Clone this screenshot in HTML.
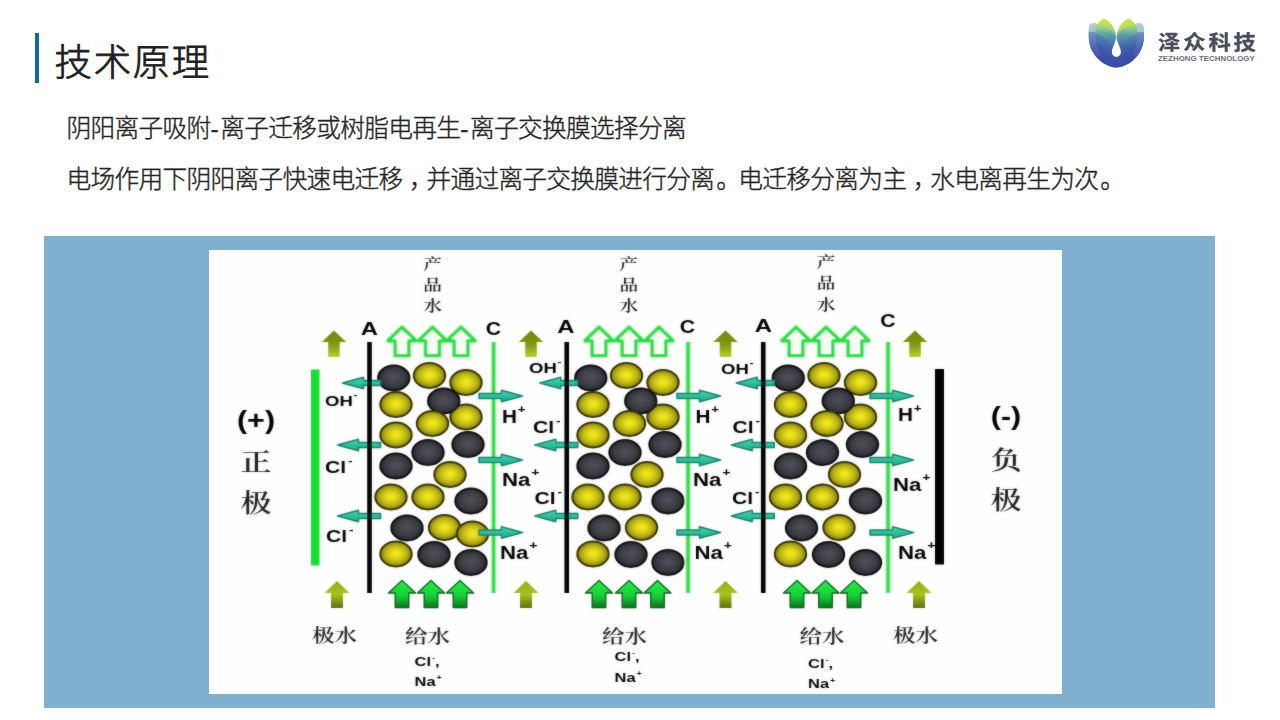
<!DOCTYPE html>
<html lang="zh-CN">
<head>
<meta charset="utf-8">
<title>技术原理</title>
<style>
html,body{margin:0;padding:0;}
body{width:1280px;height:720px;overflow:hidden;background:#fff;position:relative;
  font-family:"Liberation Sans","Noto Sans CJK SC",sans-serif;color:#262626;}
.bar{position:absolute;left:35px;top:33px;width:4px;height:50px;background:#14689d;}
h1{position:absolute;left:54.6px;top:34px;margin:0;font-size:37.4px;line-height:58px;font-weight:300;color:#202020;-webkit-text-stroke:0.8px #202020;white-space:nowrap;letter-spacing:1.7px;}
p{position:absolute;left:66.6px;margin:0;font-size:24.7px;line-height:36px;font-weight:300;color:#262626;-webkit-text-stroke:0.4px #262626;white-space:nowrap;letter-spacing:-0.7px;}
p i{font-style:normal;letter-spacing:1.6px;}
p b{font-weight:inherit;position:relative;left:6.5px;}
p b.d{left:2px;}
p.l1{top:110.6px;}
p.l2{top:161.6px;}
.panel{position:absolute;left:44px;top:236px;width:1171px;height:472px;background:#7fb0cf;}
.pic{position:absolute;left:209px;top:250px;width:853px;height:444px;background:#fefefe;}
svg.dg{position:absolute;left:0;top:0;width:1280px;height:720px;overflow:hidden;}
.logo{position:absolute;left:1080px;top:8px;width:80px;height:70px;}
.brand{position:absolute;left:1158px;top:27px;width:110px;white-space:nowrap;color:#4a4e5b;}
.brand .cn{position:relative;top:1px;font-size:20px;line-height:30px;font-weight:700;letter-spacing:2.6px;transform:scaleX(1.115);transform-origin:0 0;-webkit-text-stroke:0.3px #4a4e5b;}
.brand .en{font-size:7.8px;line-height:9px;font-weight:700;letter-spacing:0.08px;color:#6a6d78;margin-top:-3px;}
</style>
</head>
<body>
<div class="bar"></div>
<h1>技术原理</h1>
<p class="l1">阴阳离子吸附<i>-</i>离子迁移或树脂电再生<i>-</i>离子交换膜选择分离</p>
<p class="l2">电场作用下阴阳离子快速电迁移<b>，</b>并通过离子交换膜进行分离<b class="d">。</b>电迁移分离为主<b>，</b>水电离再生为次<b class="d">。</b></p>
<svg class="logo" viewBox="1080 8 80 70" width="80" height="70">
<defs>
<linearGradient id="lg1" gradientUnits="userSpaceOnUse" x1="0" y1="19" x2="0" y2="68">
<stop offset="0" stop-color="#cfe25a"/><stop offset="0.1" stop-color="#bcdb60"/><stop offset="0.2" stop-color="#8ecb92"/><stop offset="0.3" stop-color="#62a5a3"/><stop offset="0.45" stop-color="#4d80ae"/><stop offset="0.6" stop-color="#4264ae"/><stop offset="0.8" stop-color="#3c52aa"/><stop offset="1" stop-color="#3b47a3"/>
</linearGradient>
<linearGradient id="lg2" gradientUnits="userSpaceOnUse" x1="0" y1="23" x2="0" y2="60">
<stop offset="0" stop-color="#b7cdec"/><stop offset="0.23" stop-color="#aac6e6"/><stop offset="0.24" stop-color="#7f90ca"/><stop offset="0.6" stop-color="#5a6ebc"/><stop offset="1" stop-color="#3e50aa"/>
</linearGradient>
<clipPath id="lclip"><path d="M1116.3 67.8 C1107 66.8 1098.8 61 1094.2 54.3 C1090.6 49 1088.7 43 1088.7 36 L1088.8 29 C1089 25 1091 23 1093.5 23 C1095 23 1096.5 23.5 1097.5 24.2 C1098.5 22.5 1101 20 1104 18.8 C1108 20 1112.5 24.5 1114.6 30 C1115.6 33 1116 35.5 1116.3 38 C1116.7 35.5 1117.2 33 1118.2 30 C1120.3 24.5 1124.5 20 1128.6 18.8 C1131.6 20 1134 22.5 1135 24.2 C1136 23.5 1137.5 23 1139 23 C1141.7 23 1143.7 25 1143.9 29 L1144 36 C1144 43 1142.1 49 1138.5 54.3 C1133.9 61 1125.7 66.8 1116.3 67.8 Z"/></clipPath>
<filter id="lsoft" x="1080" y="8" width="80" height="70" filterUnits="userSpaceOnUse"><feGaussianBlur stdDeviation="0.45"/></filter>
</defs>
<g filter="url(#lsoft)">
<path d="M1116.3 67.8 C1107 66.8 1098.8 61 1094.2 54.3 C1090.6 49 1088.7 43 1088.7 36 L1088.8 29 C1089 25 1091 23 1093.5 23 C1095 23 1096.5 23.5 1097.5 24.2 C1098.5 22.5 1101 20 1104 18.8 C1108 20 1112.5 24.5 1114.6 30 C1115.6 33 1116 35.5 1116.3 38 C1116.7 35.5 1117.2 33 1118.2 30 C1120.3 24.5 1124.5 20 1128.6 18.8 C1131.6 20 1134 22.5 1135 24.2 C1136 23.5 1137.5 23 1139 23 C1141.7 23 1143.7 25 1143.9 29 L1144 36 C1144 43 1142.1 49 1138.5 54.3 C1133.9 61 1125.7 66.8 1116.3 67.8 Z" fill="url(#lg1)"/>
<g clip-path="url(#lclip)">
<path d="M1084 31.8 C1097 31.5 1108.5 38.5 1113 50.5 L1113 70 L1084 70 Z" fill="#3f58ae" opacity="0.3"/>
<path d="M1149 31.8 C1136 31.5 1124.5 38.5 1120 50.5 L1120 70 L1149 70 Z" fill="#3f58ae" opacity="0.3"/>
<path d="M1084 40.5 C1095.5 40.5 1105.5 47 1110.5 58 L1110.5 70 L1084 70 Z" fill="#3b49a7" opacity="0.35"/>
<path d="M1149 40.5 C1137.5 40.5 1127.5 47 1122.5 58 L1122.5 70 L1149 70 Z" fill="#3b49a7" opacity="0.35"/>
</g>
<path d="M1088.7 36 L1088.8 29 C1089 25 1091 23 1093.5 23 C1095 23 1096 23.3 1096.8 23.8 C1095.6 27 1095.2 31 1095.4 36 C1095.8 44 1098 50 1101 55 L1097 56.5 C1092 50 1088.7 43 1088.7 36 Z" fill="url(#lg2)" opacity="0.75"/>
<path d="M1144 36 L1143.9 29 C1143.7 25 1141.7 23 1139.2 23 C1137.7 23 1136.7 23.3 1135.9 23.8 C1137.1 27 1137.5 31 1137.3 36 C1136.9 44 1134.7 50 1131.7 55 L1135.7 56.5 C1140.7 50 1144 43 1144 36 Z" fill="url(#lg2)" opacity="0.75"/>
<path d="M1104 18.8 C1108 20 1112.5 24.5 1114.6 30 C1115.3 32 1115.7 34 1115.9 35.5 C1112 30 1106 25.5 1099.3 24.5 C1100.5 22 1102 20 1104 18.8 Z" fill="#d3e45a" opacity="0.38"/>
<path d="M1128.6 18.8 C1124.6 20 1120.1 24.5 1118 30 C1117.3 32 1116.9 34 1116.7 35.5 C1120.6 30 1126.6 25.5 1133.3 24.5 C1132.1 22 1130.6 20 1128.6 18.8 Z" fill="#d3e640" opacity="0.48"/>
<path d="M1116.4 35.5 C1116.8 43 1120.9 47 1120.9 52.3 A4.5 4.6 0 0 1 1111.9 52.3 C1111.9 47 1116 43 1116.4 35.5 Z" fill="#fdfffe"/>
</g>
</svg>

<div class="brand"><div class="cn">泽众科技</div><div class="en">ZEZHONG TECHNOLOGY</div></div>
<div class="panel"></div>
<div class="pic"></div>
<svg class="dg" viewBox="0 0 1280 720" width="1280" height="720">
<defs>
<radialGradient id="gy" cx="0.5" cy="0.5" r="0.55" fx="0.5" fy="0.48">
<stop offset="0" stop-color="#f6ec22"/><stop offset="0.3" stop-color="#e0d818"/><stop offset="0.65" stop-color="#b4ae18"/><stop offset="1" stop-color="#68640e"/>
</radialGradient>
<radialGradient id="gd" cx="0.5" cy="0.5" r="0.55" fx="0.5" fy="0.45">
<stop offset="0" stop-color="#505058"/><stop offset="0.6" stop-color="#3c3c44"/><stop offset="1" stop-color="#202024"/>
</radialGradient>
<linearGradient id="gt" x1="0" y1="0" x2="0" y2="1">
<stop offset="0" stop-color="#45d4b0"/><stop offset="0.5" stop-color="#30c09c"/><stop offset="1" stop-color="#22a586"/>
</linearGradient>
<linearGradient id="gg" x1="0" y1="0" x2="0" y2="1">
<stop offset="0" stop-color="#22f048"/><stop offset="0.55" stop-color="#18d038"/><stop offset="1" stop-color="#0a7a1e"/>
</linearGradient>
<linearGradient id="go1" x1="0" y1="0" x2="0" y2="1">
<stop offset="0" stop-color="#6f8410"/><stop offset="0.5" stop-color="#7f9612"/><stop offset="1" stop-color="#b5cf2a"/>
</linearGradient>
<linearGradient id="go2" x1="0" y1="0" x2="0" y2="1">
<stop offset="0" stop-color="#8fae18"/><stop offset="0.5" stop-color="#a3c41c"/><stop offset="1" stop-color="#5f6c10"/>
</linearGradient>
<filter id="soft" x="0" y="0" width="100%" height="100%" filterUnits="userSpaceOnUse"><feGaussianBlur stdDeviation="0.8" result="b"/><feComposite in="SourceGraphic" in2="b" operator="arithmetic" k1="0" k2="0.62" k3="0.38" k4="0"/></filter>
</defs>
<g filter="url(#soft)">
<rect x="311" y="369.5" width="8.5" height="196" fill="#14e02e"/>
<rect x="935" y="369" width="9" height="195.5" fill="#000"/>
<rect x="490.5" y="342" width="6" height="251" fill="#c4f7ca"/>
<rect x="491.9" y="342" width="3.4" height="251" fill="#2bdc48"/>
<rect x="685" y="342" width="6" height="251" fill="#c4f7ca"/>
<rect x="686.4" y="342" width="3.4" height="251" fill="#2bdc48"/>
<rect x="885" y="342" width="6" height="251" fill="#c4f7ca"/>
<rect x="886.4" y="342" width="3.4" height="251" fill="#2bdc48"/>
<ellipse cx="393.75" cy="378" rx="15.7" ry="12.4" fill="url(#gd)" stroke="#0c0c0e" stroke-width="2"/>
<ellipse cx="429.5" cy="375.5" rx="15.7" ry="12.4" fill="url(#gy)" stroke="#332e00" stroke-width="2"/>
<ellipse cx="466" cy="382.5" rx="15.7" ry="12.4" fill="url(#gy)" stroke="#332e00" stroke-width="2"/>
<ellipse cx="396" cy="404.5" rx="15.7" ry="12.4" fill="url(#gy)" stroke="#332e00" stroke-width="2"/>
<ellipse cx="466" cy="417" rx="15.7" ry="12.4" fill="url(#gy)" stroke="#332e00" stroke-width="2"/>
<ellipse cx="443.75" cy="401" rx="15.7" ry="12.4" fill="url(#gd)" stroke="#0c0c0e" stroke-width="2"/>
<ellipse cx="432.5" cy="423.5" rx="15.7" ry="12.4" fill="url(#gy)" stroke="#332e00" stroke-width="2"/>
<ellipse cx="396" cy="435" rx="15.7" ry="12.4" fill="url(#gy)" stroke="#332e00" stroke-width="2"/>
<ellipse cx="468" cy="444.5" rx="15.7" ry="12.4" fill="url(#gd)" stroke="#0c0c0e" stroke-width="2"/>
<ellipse cx="428" cy="452.5" rx="15.7" ry="12.4" fill="url(#gd)" stroke="#0c0c0e" stroke-width="2"/>
<ellipse cx="396" cy="466" rx="15.7" ry="12.4" fill="url(#gd)" stroke="#0c0c0e" stroke-width="2"/>
<ellipse cx="450" cy="474.5" rx="15.7" ry="12.4" fill="url(#gy)" stroke="#332e00" stroke-width="2"/>
<ellipse cx="391" cy="497" rx="15.7" ry="12.4" fill="url(#gy)" stroke="#332e00" stroke-width="2"/>
<ellipse cx="428" cy="497" rx="15.7" ry="12.4" fill="url(#gy)" stroke="#332e00" stroke-width="2"/>
<ellipse cx="471" cy="501" rx="15.7" ry="12.4" fill="url(#gd)" stroke="#0c0c0e" stroke-width="2"/>
<ellipse cx="407" cy="528" rx="15.7" ry="12.4" fill="url(#gd)" stroke="#0c0c0e" stroke-width="2"/>
<ellipse cx="444.5" cy="527.5" rx="15.7" ry="12.4" fill="url(#gy)" stroke="#332e00" stroke-width="2"/>
<ellipse cx="472.5" cy="534" rx="15.7" ry="12.4" fill="url(#gy)" stroke="#332e00" stroke-width="2"/>
<ellipse cx="396" cy="554" rx="15.7" ry="12.4" fill="url(#gy)" stroke="#332e00" stroke-width="2"/>
<ellipse cx="434" cy="554.5" rx="15.7" ry="12.4" fill="url(#gd)" stroke="#0c0c0e" stroke-width="2"/>
<ellipse cx="471" cy="562.5" rx="15.7" ry="12.4" fill="url(#gd)" stroke="#0c0c0e" stroke-width="2"/>
<ellipse cx="590.75" cy="378" rx="15.7" ry="12.4" fill="url(#gd)" stroke="#0c0c0e" stroke-width="2"/>
<ellipse cx="626.5" cy="375.5" rx="15.7" ry="12.4" fill="url(#gy)" stroke="#332e00" stroke-width="2"/>
<ellipse cx="663" cy="382.5" rx="15.7" ry="12.4" fill="url(#gy)" stroke="#332e00" stroke-width="2"/>
<ellipse cx="593" cy="404.5" rx="15.7" ry="12.4" fill="url(#gy)" stroke="#332e00" stroke-width="2"/>
<ellipse cx="663" cy="417" rx="15.7" ry="12.4" fill="url(#gy)" stroke="#332e00" stroke-width="2"/>
<ellipse cx="640.75" cy="401" rx="15.7" ry="12.4" fill="url(#gd)" stroke="#0c0c0e" stroke-width="2"/>
<ellipse cx="629.5" cy="423.5" rx="15.7" ry="12.4" fill="url(#gy)" stroke="#332e00" stroke-width="2"/>
<ellipse cx="593" cy="435" rx="15.7" ry="12.4" fill="url(#gy)" stroke="#332e00" stroke-width="2"/>
<ellipse cx="665" cy="444.5" rx="15.7" ry="12.4" fill="url(#gd)" stroke="#0c0c0e" stroke-width="2"/>
<ellipse cx="625" cy="452.5" rx="15.7" ry="12.4" fill="url(#gd)" stroke="#0c0c0e" stroke-width="2"/>
<ellipse cx="593" cy="466" rx="15.7" ry="12.4" fill="url(#gd)" stroke="#0c0c0e" stroke-width="2"/>
<ellipse cx="647" cy="474.5" rx="15.7" ry="12.4" fill="url(#gy)" stroke="#332e00" stroke-width="2"/>
<ellipse cx="588" cy="497" rx="15.7" ry="12.4" fill="url(#gy)" stroke="#332e00" stroke-width="2"/>
<ellipse cx="625" cy="497" rx="15.7" ry="12.4" fill="url(#gy)" stroke="#332e00" stroke-width="2"/>
<ellipse cx="668" cy="501" rx="15.7" ry="12.4" fill="url(#gd)" stroke="#0c0c0e" stroke-width="2"/>
<ellipse cx="604" cy="528" rx="15.7" ry="12.4" fill="url(#gd)" stroke="#0c0c0e" stroke-width="2"/>
<ellipse cx="641.5" cy="527.5" rx="15.7" ry="12.4" fill="url(#gy)" stroke="#332e00" stroke-width="2"/>
<ellipse cx="593" cy="554" rx="15.7" ry="12.4" fill="url(#gy)" stroke="#332e00" stroke-width="2"/>
<ellipse cx="631" cy="554.5" rx="15.7" ry="12.4" fill="url(#gd)" stroke="#0c0c0e" stroke-width="2"/>
<ellipse cx="668" cy="562.5" rx="15.7" ry="12.4" fill="url(#gd)" stroke="#0c0c0e" stroke-width="2"/>
<ellipse cx="788.25" cy="378" rx="15.7" ry="12.4" fill="url(#gd)" stroke="#0c0c0e" stroke-width="2"/>
<ellipse cx="824.0" cy="375.5" rx="15.7" ry="12.4" fill="url(#gy)" stroke="#332e00" stroke-width="2"/>
<ellipse cx="860.5" cy="382.5" rx="15.7" ry="12.4" fill="url(#gy)" stroke="#332e00" stroke-width="2"/>
<ellipse cx="790.5" cy="404.5" rx="15.7" ry="12.4" fill="url(#gy)" stroke="#332e00" stroke-width="2"/>
<ellipse cx="860.5" cy="417" rx="15.7" ry="12.4" fill="url(#gy)" stroke="#332e00" stroke-width="2"/>
<ellipse cx="838.25" cy="401" rx="15.7" ry="12.4" fill="url(#gd)" stroke="#0c0c0e" stroke-width="2"/>
<ellipse cx="827.0" cy="423.5" rx="15.7" ry="12.4" fill="url(#gy)" stroke="#332e00" stroke-width="2"/>
<ellipse cx="790.5" cy="435" rx="15.7" ry="12.4" fill="url(#gy)" stroke="#332e00" stroke-width="2"/>
<ellipse cx="862.5" cy="444.5" rx="15.7" ry="12.4" fill="url(#gd)" stroke="#0c0c0e" stroke-width="2"/>
<ellipse cx="822.5" cy="452.5" rx="15.7" ry="12.4" fill="url(#gd)" stroke="#0c0c0e" stroke-width="2"/>
<ellipse cx="790.5" cy="466" rx="15.7" ry="12.4" fill="url(#gd)" stroke="#0c0c0e" stroke-width="2"/>
<ellipse cx="844.5" cy="474.5" rx="15.7" ry="12.4" fill="url(#gy)" stroke="#332e00" stroke-width="2"/>
<ellipse cx="785.5" cy="497" rx="15.7" ry="12.4" fill="url(#gy)" stroke="#332e00" stroke-width="2"/>
<ellipse cx="822.5" cy="497" rx="15.7" ry="12.4" fill="url(#gy)" stroke="#332e00" stroke-width="2"/>
<ellipse cx="865.5" cy="501" rx="15.7" ry="12.4" fill="url(#gd)" stroke="#0c0c0e" stroke-width="2"/>
<ellipse cx="801.5" cy="528" rx="15.7" ry="12.4" fill="url(#gd)" stroke="#0c0c0e" stroke-width="2"/>
<ellipse cx="839.0" cy="527.5" rx="15.7" ry="12.4" fill="url(#gy)" stroke="#332e00" stroke-width="2"/>
<ellipse cx="790.5" cy="554" rx="15.7" ry="12.4" fill="url(#gy)" stroke="#332e00" stroke-width="2"/>
<ellipse cx="828.5" cy="554.5" rx="15.7" ry="12.4" fill="url(#gd)" stroke="#0c0c0e" stroke-width="2"/>
<ellipse cx="865.5" cy="562.5" rx="15.7" ry="12.4" fill="url(#gd)" stroke="#0c0c0e" stroke-width="2"/>
<path d="M342.5 383 L363.5 377.25 L363.5 380.4 L380.5 380.4 L380.5 385.6 L363.5 385.6 L363.5 388.75 Z" fill="url(#gt)" stroke="#15806a" stroke-width="1.5" stroke-linejoin="round"/>
<path d="M337.5 445 L358.5 439.25 L358.5 442.4 L380.5 442.4 L380.5 447.6 L358.5 447.6 L358.5 450.75 Z" fill="url(#gt)" stroke="#15806a" stroke-width="1.5" stroke-linejoin="round"/>
<path d="M337.5 516 L358.5 510.25 L358.5 513.4 L380.5 513.4 L380.5 518.6 L358.5 518.6 L358.5 521.75 Z" fill="url(#gt)" stroke="#15806a" stroke-width="1.5" stroke-linejoin="round"/>
<path d="M522.5 396 L501.5 390.25 L501.5 393.4 L479 393.4 L479 398.6 L501.5 398.6 L501.5 401.75 Z" fill="url(#gt)" stroke="#15806a" stroke-width="1.5" stroke-linejoin="round"/>
<path d="M522.5 460 L501.5 454.25 L501.5 457.4 L479 457.4 L479 462.6 L501.5 462.6 L501.5 465.75 Z" fill="url(#gt)" stroke="#15806a" stroke-width="1.5" stroke-linejoin="round"/>
<path d="M522.5 532.5 L501.5 526.75 L501.5 529.9 L479 529.9 L479 535.1 L501.5 535.1 L501.5 538.25 Z" fill="url(#gt)" stroke="#15806a" stroke-width="1.5" stroke-linejoin="round"/>
<path d="M539.75 383 L560.75 377.25 L560.75 380.4 L577.75 380.4 L577.75 385.6 L560.75 385.6 L560.75 388.75 Z" fill="url(#gt)" stroke="#15806a" stroke-width="1.5" stroke-linejoin="round"/>
<path d="M534.75 445 L555.75 439.25 L555.75 442.4 L577.75 442.4 L577.75 447.6 L555.75 447.6 L555.75 450.75 Z" fill="url(#gt)" stroke="#15806a" stroke-width="1.5" stroke-linejoin="round"/>
<path d="M534.75 516 L555.75 510.25 L555.75 513.4 L577.75 513.4 L577.75 518.6 L555.75 518.6 L555.75 521.75 Z" fill="url(#gt)" stroke="#15806a" stroke-width="1.5" stroke-linejoin="round"/>
<path d="M720.5 396 L699.5 390.25 L699.5 393.4 L677 393.4 L677 398.6 L699.5 398.6 L699.5 401.75 Z" fill="url(#gt)" stroke="#15806a" stroke-width="1.5" stroke-linejoin="round"/>
<path d="M720.5 460 L699.5 454.25 L699.5 457.4 L677 457.4 L677 462.6 L699.5 462.6 L699.5 465.75 Z" fill="url(#gt)" stroke="#15806a" stroke-width="1.5" stroke-linejoin="round"/>
<path d="M720.5 532.5 L699.5 526.75 L699.5 529.9 L677 529.9 L677 535.1 L699.5 535.1 L699.5 538.25 Z" fill="url(#gt)" stroke="#15806a" stroke-width="1.5" stroke-linejoin="round"/>
<path d="M736.25 383 L757.25 377.25 L757.25 380.4 L774.25 380.4 L774.25 385.6 L757.25 385.6 L757.25 388.75 Z" fill="url(#gt)" stroke="#15806a" stroke-width="1.5" stroke-linejoin="round"/>
<path d="M731.25 445 L752.25 439.25 L752.25 442.4 L774.25 442.4 L774.25 447.6 L752.25 447.6 L752.25 450.75 Z" fill="url(#gt)" stroke="#15806a" stroke-width="1.5" stroke-linejoin="round"/>
<path d="M731.25 516 L752.25 510.25 L752.25 513.4 L774.25 513.4 L774.25 518.6 L752.25 518.6 L752.25 521.75 Z" fill="url(#gt)" stroke="#15806a" stroke-width="1.5" stroke-linejoin="round"/>
<path d="M913.5 396 L892.5 390.25 L892.5 393.4 L870 393.4 L870 398.6 L892.5 398.6 L892.5 401.75 Z" fill="url(#gt)" stroke="#15806a" stroke-width="1.5" stroke-linejoin="round"/>
<path d="M913.5 460 L892.5 454.25 L892.5 457.4 L870 457.4 L870 462.6 L892.5 462.6 L892.5 465.75 Z" fill="url(#gt)" stroke="#15806a" stroke-width="1.5" stroke-linejoin="round"/>
<path d="M913.5 532.5 L892.5 526.75 L892.5 529.9 L870 529.9 L870 535.1 L892.5 535.1 L892.5 538.25 Z" fill="url(#gt)" stroke="#15806a" stroke-width="1.5" stroke-linejoin="round"/>
<rect x="367.2" y="342" width="4.6" height="251" fill="#000"/>
<rect x="564.45" y="342" width="4.6" height="251" fill="#000"/>
<rect x="760.95" y="342" width="4.6" height="251" fill="#000"/>
<path d="M402 327.3 L415.8 340.7 L408.75 340.7 L408.75 355.5 L395.25 355.5 L395.25 340.7 L388.2 340.7 Z" fill="#f4fff4" stroke="#b0f6ba" stroke-width="5.2" stroke-linejoin="round"/>
<path d="M432.5 327.3 L446.3 340.7 L439.25 340.7 L439.25 355.5 L425.75 355.5 L425.75 340.7 L418.7 340.7 Z" fill="#f4fff4" stroke="#b0f6ba" stroke-width="5.2" stroke-linejoin="round"/>
<path d="M461 327.3 L474.8 340.7 L467.75 340.7 L467.75 355.5 L454.25 355.5 L454.25 340.7 L447.2 340.7 Z" fill="#f4fff4" stroke="#b0f6ba" stroke-width="5.2" stroke-linejoin="round"/>
<path d="M402 327.3 L415.8 340.7 L408.75 340.7 L408.75 355.5 L395.25 355.5 L395.25 340.7 L388.2 340.7 Z" fill="#f4fff4" stroke="#1fdc3d" stroke-width="3" stroke-linejoin="round"/>
<path d="M432.5 327.3 L446.3 340.7 L439.25 340.7 L439.25 355.5 L425.75 355.5 L425.75 340.7 L418.7 340.7 Z" fill="#f4fff4" stroke="#1fdc3d" stroke-width="3" stroke-linejoin="round"/>
<path d="M461 327.3 L474.8 340.7 L467.75 340.7 L467.75 355.5 L454.25 355.5 L454.25 340.7 L447.2 340.7 Z" fill="#f4fff4" stroke="#1fdc3d" stroke-width="3" stroke-linejoin="round"/>
<path d="M599 327.3 L612.8 340.7 L605.75 340.7 L605.75 355.5 L592.25 355.5 L592.25 340.7 L585.2 340.7 Z" fill="#f4fff4" stroke="#b0f6ba" stroke-width="5.2" stroke-linejoin="round"/>
<path d="M629 327.3 L642.8 340.7 L635.75 340.7 L635.75 355.5 L622.25 355.5 L622.25 340.7 L615.2 340.7 Z" fill="#f4fff4" stroke="#b0f6ba" stroke-width="5.2" stroke-linejoin="round"/>
<path d="M659 327.3 L672.8 340.7 L665.75 340.7 L665.75 355.5 L652.25 355.5 L652.25 340.7 L645.2 340.7 Z" fill="#f4fff4" stroke="#b0f6ba" stroke-width="5.2" stroke-linejoin="round"/>
<path d="M599 327.3 L612.8 340.7 L605.75 340.7 L605.75 355.5 L592.25 355.5 L592.25 340.7 L585.2 340.7 Z" fill="#f4fff4" stroke="#1fdc3d" stroke-width="3" stroke-linejoin="round"/>
<path d="M629 327.3 L642.8 340.7 L635.75 340.7 L635.75 355.5 L622.25 355.5 L622.25 340.7 L615.2 340.7 Z" fill="#f4fff4" stroke="#1fdc3d" stroke-width="3" stroke-linejoin="round"/>
<path d="M659 327.3 L672.8 340.7 L665.75 340.7 L665.75 355.5 L652.25 355.5 L652.25 340.7 L645.2 340.7 Z" fill="#f4fff4" stroke="#1fdc3d" stroke-width="3" stroke-linejoin="round"/>
<path d="M796 327.3 L809.8 340.7 L802.75 340.7 L802.75 355.5 L789.25 355.5 L789.25 340.7 L782.2 340.7 Z" fill="#f4fff4" stroke="#b0f6ba" stroke-width="5.2" stroke-linejoin="round"/>
<path d="M826 327.3 L839.8 340.7 L832.75 340.7 L832.75 355.5 L819.25 355.5 L819.25 340.7 L812.2 340.7 Z" fill="#f4fff4" stroke="#b0f6ba" stroke-width="5.2" stroke-linejoin="round"/>
<path d="M855 327.3 L868.8 340.7 L861.75 340.7 L861.75 355.5 L848.25 355.5 L848.25 340.7 L841.2 340.7 Z" fill="#f4fff4" stroke="#b0f6ba" stroke-width="5.2" stroke-linejoin="round"/>
<path d="M796 327.3 L809.8 340.7 L802.75 340.7 L802.75 355.5 L789.25 355.5 L789.25 340.7 L782.2 340.7 Z" fill="#f4fff4" stroke="#1fdc3d" stroke-width="3" stroke-linejoin="round"/>
<path d="M826 327.3 L839.8 340.7 L832.75 340.7 L832.75 355.5 L819.25 355.5 L819.25 340.7 L812.2 340.7 Z" fill="#f4fff4" stroke="#1fdc3d" stroke-width="3" stroke-linejoin="round"/>
<path d="M855 327.3 L868.8 340.7 L861.75 340.7 L861.75 355.5 L848.25 355.5 L848.25 340.7 L841.2 340.7 Z" fill="#f4fff4" stroke="#1fdc3d" stroke-width="3" stroke-linejoin="round"/>
<path d="M402 580.5 L415.5 593.0 L408.75 593.0 L408.75 607.5 L395.25 607.5 L395.25 593.0 L388.5 593.0 Z" fill="url(#gg)" stroke="#0a5a1a" stroke-width="1.4" stroke-linejoin="round"/>
<path d="M431 580.5 L444.5 593.0 L437.75 593.0 L437.75 607.5 L424.25 607.5 L424.25 593.0 L417.5 593.0 Z" fill="url(#gg)" stroke="#0a5a1a" stroke-width="1.4" stroke-linejoin="round"/>
<path d="M460 580.5 L473.5 593.0 L466.75 593.0 L466.75 607.5 L453.25 607.5 L453.25 593.0 L446.5 593.0 Z" fill="url(#gg)" stroke="#0a5a1a" stroke-width="1.4" stroke-linejoin="round"/>
<path d="M599 580.5 L612.5 593.0 L605.75 593.0 L605.75 607.5 L592.25 607.5 L592.25 593.0 L585.5 593.0 Z" fill="url(#gg)" stroke="#0a5a1a" stroke-width="1.4" stroke-linejoin="round"/>
<path d="M629 580.5 L642.5 593.0 L635.75 593.0 L635.75 607.5 L622.25 607.5 L622.25 593.0 L615.5 593.0 Z" fill="url(#gg)" stroke="#0a5a1a" stroke-width="1.4" stroke-linejoin="round"/>
<path d="M657.5 580.5 L671.0 593.0 L664.25 593.0 L664.25 607.5 L650.75 607.5 L650.75 593.0 L644.0 593.0 Z" fill="url(#gg)" stroke="#0a5a1a" stroke-width="1.4" stroke-linejoin="round"/>
<path d="M797 580.5 L810.5 593.0 L803.75 593.0 L803.75 607.5 L790.25 607.5 L790.25 593.0 L783.5 593.0 Z" fill="url(#gg)" stroke="#0a5a1a" stroke-width="1.4" stroke-linejoin="round"/>
<path d="M825.5 580.5 L839.0 593.0 L832.25 593.0 L832.25 607.5 L818.75 607.5 L818.75 593.0 L812.0 593.0 Z" fill="url(#gg)" stroke="#0a5a1a" stroke-width="1.4" stroke-linejoin="round"/>
<path d="M854 580.5 L867.5 593.0 L860.75 593.0 L860.75 607.5 L847.25 607.5 L847.25 593.0 L840.5 593.0 Z" fill="url(#gg)" stroke="#0a5a1a" stroke-width="1.4" stroke-linejoin="round"/>
<path d="M334 330.5 L346.25 342.0 L339.75 342.0 L339.75 357 L328.25 357 L328.25 342.0 L321.75 342.0 Z" fill="url(#go1)"/>
<path d="M531 330.5 L543.25 342.0 L536.75 342.0 L536.75 357 L525.25 357 L525.25 342.0 L518.75 342.0 Z" fill="url(#go1)"/>
<path d="M725.5 330.5 L737.75 342.0 L731.25 342.0 L731.25 357 L719.75 357 L719.75 342.0 L713.25 342.0 Z" fill="url(#go1)"/>
<path d="M915 330.5 L927.25 342.0 L920.75 342.0 L920.75 357 L909.25 357 L909.25 342.0 L902.75 342.0 Z" fill="url(#go1)"/>
<path d="M337 581 L349.5 593 L343.0 593 L343.0 608 L331.0 608 L331.0 593 L324.5 593 Z" fill="url(#go2)"/>
<path d="M526 581 L538.5 593 L532.0 593 L532.0 608 L520.0 608 L520.0 593 L513.5 593 Z" fill="url(#go2)"/>
<path d="M725.5 581 L738.0 593 L731.5 593 L731.5 608 L719.5 608 L719.5 593 L713.0 593 Z" fill="url(#go2)"/>
<path d="M919 581 L931.5 593 L925.0 593 L925.0 608 L913.0 608 L913.0 593 L906.5 593 Z" fill="url(#go2)"/>
<text transform="translate(432.5 268.7) scale(1.22 1)" font-family='"Liberation Serif","Noto Serif CJK SC",serif' font-size="15.3" font-weight="600" fill="#1c1c1c" text-anchor="middle">产</text>
<text transform="translate(432.5 290.0) scale(1.22 1)" font-family='"Liberation Serif","Noto Serif CJK SC",serif' font-size="15.3" font-weight="600" fill="#1c1c1c" text-anchor="middle">品</text>
<text transform="translate(432.5 311.3) scale(1.22 1)" font-family='"Liberation Serif","Noto Serif CJK SC",serif' font-size="15.3" font-weight="600" fill="#1c1c1c" text-anchor="middle">水</text>
<text transform="translate(628.75 268.7) scale(1.22 1)" font-family='"Liberation Serif","Noto Serif CJK SC",serif' font-size="15.3" font-weight="600" fill="#1c1c1c" text-anchor="middle">产</text>
<text transform="translate(628.75 290.0) scale(1.22 1)" font-family='"Liberation Serif","Noto Serif CJK SC",serif' font-size="15.3" font-weight="600" fill="#1c1c1c" text-anchor="middle">品</text>
<text transform="translate(628.75 311.3) scale(1.22 1)" font-family='"Liberation Serif","Noto Serif CJK SC",serif' font-size="15.3" font-weight="600" fill="#1c1c1c" text-anchor="middle">水</text>
<text transform="translate(826 267.09999999999997) scale(1.22 1)" font-family='"Liberation Serif","Noto Serif CJK SC",serif' font-size="15.3" font-weight="600" fill="#1c1c1c" text-anchor="middle">产</text>
<text transform="translate(826 288.4) scale(1.22 1)" font-family='"Liberation Serif","Noto Serif CJK SC",serif' font-size="15.3" font-weight="600" fill="#1c1c1c" text-anchor="middle">品</text>
<text transform="translate(826 309.7) scale(1.22 1)" font-family='"Liberation Serif","Noto Serif CJK SC",serif' font-size="15.3" font-weight="600" fill="#1c1c1c" text-anchor="middle">水</text>
<text transform="translate(369.5 335.2) scale(1.26 1)" font-family='"Liberation Sans","Noto Sans CJK SC",sans-serif' font-size="19" font-weight="bold" fill="#050505" text-anchor="middle">A</text>
<text transform="translate(493.5 335.2) scale(1.12 1)" font-family='"Liberation Sans","Noto Sans CJK SC",sans-serif' font-size="19" font-weight="bold" fill="#050505" text-anchor="middle">C</text>
<text transform="translate(566 332.7) scale(1.26 1)" font-family='"Liberation Sans","Noto Sans CJK SC",sans-serif' font-size="19" font-weight="bold" fill="#050505" text-anchor="middle">A</text>
<text transform="translate(687.5 332.7) scale(1.12 1)" font-family='"Liberation Sans","Noto Sans CJK SC",sans-serif' font-size="19" font-weight="bold" fill="#050505" text-anchor="middle">C</text>
<text transform="translate(763.3 331.5) scale(1.26 1)" font-family='"Liberation Sans","Noto Sans CJK SC",sans-serif' font-size="19" font-weight="bold" fill="#050505" text-anchor="middle">A</text>
<text transform="translate(888 326.5) scale(1.12 1)" font-family='"Liberation Sans","Noto Sans CJK SC",sans-serif' font-size="19" font-weight="bold" fill="#050505" text-anchor="middle">C</text>
<text transform="translate(325 406) scale(1.22 1)" font-family='"Liberation Sans","Noto Sans CJK SC",sans-serif' font-size="15.2" font-weight="bold" fill="#050505" text-anchor="start">OH<tspan dx="0.61" dy="-7.60" font-size="9.73">-</tspan></text>
<text transform="translate(325 472.5) scale(1.22 1)" font-family='"Liberation Sans","Noto Sans CJK SC",sans-serif' font-size="17.3" font-weight="bold" fill="#050505" text-anchor="start">Cl<tspan dx="1.56" dy="-8.65" font-size="11.07">-</tspan></text>
<text transform="translate(326 541.5) scale(1.22 1)" font-family='"Liberation Sans","Noto Sans CJK SC",sans-serif' font-size="17.3" font-weight="bold" fill="#050505" text-anchor="start">Cl<tspan dx="1.56" dy="-8.65" font-size="11.07">-</tspan></text>
<text transform="translate(529 372.5) scale(1.22 1)" font-family='"Liberation Sans","Noto Sans CJK SC",sans-serif' font-size="15.2" font-weight="bold" fill="#050505" text-anchor="start">OH<tspan dx="0.61" dy="-7.60" font-size="9.73">-</tspan></text>
<text transform="translate(533 433) scale(1.22 1)" font-family='"Liberation Sans","Noto Sans CJK SC",sans-serif' font-size="17.3" font-weight="bold" fill="#050505" text-anchor="start">Cl<tspan dx="1.56" dy="-8.65" font-size="11.07">-</tspan></text>
<text transform="translate(534.5 504) scale(1.22 1)" font-family='"Liberation Sans","Noto Sans CJK SC",sans-serif' font-size="17.3" font-weight="bold" fill="#050505" text-anchor="start">Cl<tspan dx="1.56" dy="-8.65" font-size="11.07">-</tspan></text>
<text transform="translate(721 374) scale(1.22 1)" font-family='"Liberation Sans","Noto Sans CJK SC",sans-serif' font-size="15.2" font-weight="bold" fill="#050505" text-anchor="start">OH<tspan dx="0.61" dy="-7.60" font-size="9.73">-</tspan></text>
<text transform="translate(732.5 433) scale(1.22 1)" font-family='"Liberation Sans","Noto Sans CJK SC",sans-serif' font-size="17.3" font-weight="bold" fill="#050505" text-anchor="start">Cl<tspan dx="1.56" dy="-8.65" font-size="11.07">-</tspan></text>
<text transform="translate(732 503.5) scale(1.22 1)" font-family='"Liberation Sans","Noto Sans CJK SC",sans-serif' font-size="17.3" font-weight="bold" fill="#050505" text-anchor="start">Cl<tspan dx="1.56" dy="-8.65" font-size="11.07">-</tspan></text>
<text transform="translate(502 422.5) scale(1.12 1)" font-family='"Liberation Sans","Noto Sans CJK SC",sans-serif' font-size="18.5" font-weight="bold" fill="#050505" text-anchor="start">H<tspan dx="0.74" dy="-9.25" font-size="11.84">+</tspan></text>
<text transform="translate(502 485.5) scale(1.2 1)" font-family='"Liberation Sans","Noto Sans CJK SC",sans-serif' font-size="18.5" font-weight="bold" fill="#050505" text-anchor="start">Na<tspan dx="0.74" dy="-9.25" font-size="11.84">+</tspan></text>
<text transform="translate(500 558.5) scale(1.2 1)" font-family='"Liberation Sans","Noto Sans CJK SC",sans-serif' font-size="18.5" font-weight="bold" fill="#050505" text-anchor="start">Na<tspan dx="0.74" dy="-9.25" font-size="11.84">+</tspan></text>
<text transform="translate(695.5 422.5) scale(1.12 1)" font-family='"Liberation Sans","Noto Sans CJK SC",sans-serif' font-size="18.5" font-weight="bold" fill="#050505" text-anchor="start">H<tspan dx="0.74" dy="-9.25" font-size="11.84">+</tspan></text>
<text transform="translate(693 485.5) scale(1.2 1)" font-family='"Liberation Sans","Noto Sans CJK SC",sans-serif' font-size="18.5" font-weight="bold" fill="#050505" text-anchor="start">Na<tspan dx="0.74" dy="-9.25" font-size="11.84">+</tspan></text>
<text transform="translate(694.5 558.5) scale(1.2 1)" font-family='"Liberation Sans","Noto Sans CJK SC",sans-serif' font-size="18.5" font-weight="bold" fill="#050505" text-anchor="start">Na<tspan dx="0.74" dy="-9.25" font-size="11.84">+</tspan></text>
<text transform="translate(898 421) scale(1.12 1)" font-family='"Liberation Sans","Noto Sans CJK SC",sans-serif' font-size="18.5" font-weight="bold" fill="#050505" text-anchor="start">H<tspan dx="0.74" dy="-9.25" font-size="11.84">+</tspan></text>
<text transform="translate(893 490.5) scale(1.2 1)" font-family='"Liberation Sans","Noto Sans CJK SC",sans-serif' font-size="18.5" font-weight="bold" fill="#050505" text-anchor="start">Na<tspan dx="0.74" dy="-9.25" font-size="11.84">+</tspan></text>
<text transform="translate(898 558.5) scale(1.2 1)" font-family='"Liberation Sans","Noto Sans CJK SC",sans-serif' font-size="18.5" font-weight="bold" fill="#050505" text-anchor="start">Na<tspan dx="0.74" dy="-9.25" font-size="11.84">+</tspan></text>
<text transform="translate(256 428.7) scale(1.22 1)" font-family='"Liberation Sans","Noto Sans CJK SC",sans-serif' font-size="25" font-weight="bold" fill="#050505" text-anchor="middle">(+)</text>
<text transform="translate(256 470.5) scale(1.22 1)" font-family='"Liberation Serif","Noto Serif CJK SC",serif' font-size="25.5" font-weight="600" fill="#1c1c1c" text-anchor="middle">正</text>
<text transform="translate(256 512) scale(1.22 1)" font-family='"Liberation Serif","Noto Serif CJK SC",serif' font-size="25.5" font-weight="600" fill="#1c1c1c" text-anchor="middle">极</text>
<text transform="translate(1006 425) scale(1.22 1)" font-family='"Liberation Sans","Noto Sans CJK SC",sans-serif' font-size="25" font-weight="bold" fill="#050505" text-anchor="middle">(-)</text>
<text transform="translate(1006 468.5) scale(1.22 1)" font-family='"Liberation Serif","Noto Serif CJK SC",serif' font-size="25.5" font-weight="600" fill="#1c1c1c" text-anchor="middle">负</text>
<text transform="translate(1006 508.5) scale(1.22 1)" font-family='"Liberation Serif","Noto Serif CJK SC",serif' font-size="25.5" font-weight="600" fill="#1c1c1c" text-anchor="middle">极</text>
<text transform="translate(334.5 642.3) scale(1.22 1)" font-family='"Liberation Serif","Noto Serif CJK SC",serif' font-size="18.5" font-weight="600" fill="#1c1c1c" text-anchor="middle">极水</text>
<text transform="translate(427.5 643) scale(1.22 1)" font-family='"Liberation Serif","Noto Serif CJK SC",serif' font-size="18.5" font-weight="600" fill="#1c1c1c" text-anchor="middle">给水</text>
<text transform="translate(624.5 643) scale(1.22 1)" font-family='"Liberation Serif","Noto Serif CJK SC",serif' font-size="18.5" font-weight="600" fill="#1c1c1c" text-anchor="middle">给水</text>
<text transform="translate(822 643) scale(1.22 1)" font-family='"Liberation Serif","Noto Serif CJK SC",serif' font-size="18.5" font-weight="600" fill="#1c1c1c" text-anchor="middle">给水</text>
<text transform="translate(915.5 642.3) scale(1.22 1)" font-family='"Liberation Serif","Noto Serif CJK SC",serif' font-size="18.5" font-weight="600" fill="#1c1c1c" text-anchor="middle">极水</text>
<text transform="translate(414.5 666) scale(1.22 1)" font-family='"Liberation Sans","Noto Sans CJK SC",sans-serif' font-size="13.5" font-weight="bold" fill="#050505" text-anchor="start">Cl<tspan dx="1.08" dy="-5.67" font-size="6.75">-</tspan><tspan dy="5.67" font-size="13.5">,</tspan></text>
<text transform="translate(414.5 686) scale(1.22 1)" font-family='"Liberation Sans","Noto Sans CJK SC",sans-serif' font-size="13.5" font-weight="bold" fill="#050505" text-anchor="start">Na<tspan dx="1.08" dy="-5.67" font-size="6.75">+</tspan></text>
<text transform="translate(614.5 661) scale(1.22 1)" font-family='"Liberation Sans","Noto Sans CJK SC",sans-serif' font-size="13.5" font-weight="bold" fill="#050505" text-anchor="start">Cl<tspan dx="1.08" dy="-5.67" font-size="6.75">-</tspan><tspan dy="5.67" font-size="13.5">,</tspan></text>
<text transform="translate(614.5 682) scale(1.22 1)" font-family='"Liberation Sans","Noto Sans CJK SC",sans-serif' font-size="13.5" font-weight="bold" fill="#050505" text-anchor="start">Na<tspan dx="1.08" dy="-5.67" font-size="6.75">+</tspan></text>
<text transform="translate(808 667.8) scale(1.22 1)" font-family='"Liberation Sans","Noto Sans CJK SC",sans-serif' font-size="13.5" font-weight="bold" fill="#050505" text-anchor="start">Cl<tspan dx="1.08" dy="-5.67" font-size="6.75">-</tspan><tspan dy="5.67" font-size="13.5">,</tspan></text>
<text transform="translate(808 688.3) scale(1.22 1)" font-family='"Liberation Sans","Noto Sans CJK SC",sans-serif' font-size="13.5" font-weight="bold" fill="#050505" text-anchor="start">Na<tspan dx="1.08" dy="-5.67" font-size="6.75">+</tspan></text>
</g>
</svg>
</body>
</html>
